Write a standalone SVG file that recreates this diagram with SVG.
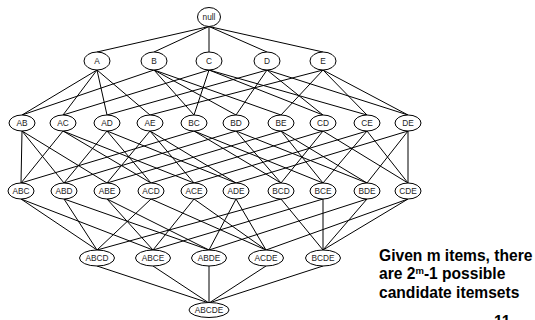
<svg xmlns="http://www.w3.org/2000/svg" width="535" height="320" viewBox="0 0 535 320">
<style>
.n ellipse{fill:#fff;stroke:#000;stroke-width:1}
.n text{font-family:"Liberation Sans",Arial,sans-serif;font-size:8.3px;fill:#222;text-anchor:middle}
#edges line{stroke:#000;stroke-width:1}
.cap{font-family:"Liberation Sans",Arial,sans-serif;font-size:15.6px;font-weight:bold;fill:#000}
</style>
<rect width="535" height="320" fill="#fff"/>
<g id="edges">
<line x1="209" y1="26.5" x2="97" y2="52"/><line x1="209" y1="26.5" x2="154" y2="52"/><line x1="209" y1="26.5" x2="209" y2="52"/><line x1="209" y1="26.5" x2="267" y2="52"/><line x1="209" y1="26.5" x2="323" y2="52"/>
<line x1="97" y1="70" x2="22" y2="115"/><line x1="97" y1="70" x2="63" y2="115"/><line x1="97" y1="70" x2="107" y2="115"/><line x1="97" y1="70" x2="150" y2="115"/>
<line x1="154" y1="70" x2="22" y2="115"/><line x1="154" y1="70" x2="194" y2="115"/><line x1="154" y1="70" x2="236" y2="115"/><line x1="154" y1="70" x2="281" y2="115"/>
<line x1="209" y1="70" x2="63" y2="115"/><line x1="209" y1="70" x2="194" y2="115"/><line x1="209" y1="70" x2="323" y2="115"/><line x1="209" y1="70" x2="367" y2="115"/>
<line x1="267" y1="70" x2="107" y2="115"/><line x1="267" y1="70" x2="236" y2="115"/><line x1="267" y1="70" x2="323" y2="115"/><line x1="267" y1="70" x2="408" y2="115"/>
<line x1="323" y1="70" x2="150" y2="115"/><line x1="323" y1="70" x2="281" y2="115"/><line x1="323" y1="70" x2="367" y2="115"/><line x1="323" y1="70" x2="408" y2="115"/>
<line x1="22" y1="131" x2="21" y2="183"/><line x1="22" y1="131" x2="64" y2="183"/><line x1="22" y1="131" x2="107" y2="183"/>
<line x1="63" y1="131" x2="21" y2="183"/><line x1="63" y1="131" x2="151" y2="183"/><line x1="63" y1="131" x2="194" y2="183"/>
<line x1="107" y1="131" x2="64" y2="183"/><line x1="107" y1="131" x2="151" y2="183"/><line x1="107" y1="131" x2="236" y2="183"/>
<line x1="150" y1="131" x2="107" y2="183"/><line x1="150" y1="131" x2="194" y2="183"/><line x1="150" y1="131" x2="236" y2="183"/>
<line x1="194" y1="131" x2="21" y2="183"/><line x1="194" y1="131" x2="281" y2="183"/><line x1="194" y1="131" x2="323" y2="183"/>
<line x1="236" y1="131" x2="64" y2="183"/><line x1="236" y1="131" x2="281" y2="183"/><line x1="236" y1="131" x2="367" y2="183"/>
<line x1="281" y1="131" x2="107" y2="183"/><line x1="281" y1="131" x2="323" y2="183"/><line x1="281" y1="131" x2="367" y2="183"/>
<line x1="323" y1="131" x2="151" y2="183"/><line x1="323" y1="131" x2="281" y2="183"/><line x1="323" y1="131" x2="408" y2="183"/>
<line x1="367" y1="131" x2="194" y2="183"/><line x1="367" y1="131" x2="323" y2="183"/><line x1="367" y1="131" x2="408" y2="183"/>
<line x1="408" y1="131" x2="236" y2="183"/><line x1="408" y1="131" x2="367" y2="183"/><line x1="408" y1="131" x2="408" y2="183"/>
<line x1="21" y1="199" x2="97" y2="250"/><line x1="21" y1="199" x2="153" y2="250"/>
<line x1="64" y1="199" x2="97" y2="250"/><line x1="64" y1="199" x2="209" y2="250"/>
<line x1="107" y1="199" x2="153" y2="250"/><line x1="107" y1="199" x2="209" y2="250"/>
<line x1="151" y1="199" x2="97" y2="250"/><line x1="151" y1="199" x2="266" y2="250"/>
<line x1="194" y1="199" x2="153" y2="250"/><line x1="194" y1="199" x2="266" y2="250"/>
<line x1="236" y1="199" x2="209" y2="250"/><line x1="236" y1="199" x2="266" y2="250"/>
<line x1="281" y1="199" x2="97" y2="250"/><line x1="281" y1="199" x2="323" y2="250"/>
<line x1="323" y1="199" x2="153" y2="250"/><line x1="323" y1="199" x2="323" y2="250"/>
<line x1="367" y1="199" x2="209" y2="250"/><line x1="367" y1="199" x2="323" y2="250"/>
<line x1="408" y1="199" x2="266" y2="250"/><line x1="408" y1="199" x2="323" y2="250"/>
<line x1="97" y1="266" x2="209" y2="303"/><line x1="153" y1="266" x2="209" y2="303"/><line x1="209" y1="266" x2="209" y2="303"/><line x1="266" y1="266" x2="209" y2="303"/><line x1="323" y1="266" x2="209" y2="303"/>
</g>
<g id="n-null" class="n"><ellipse cx="209" cy="17" rx="11.5" ry="9.5"/><text x="209" y="20">null</text></g>
<g id="n-A" class="n"><ellipse cx="97" cy="61" rx="13" ry="9"/><text x="97" y="64">A</text></g>
<g id="n-B" class="n"><ellipse cx="154" cy="61" rx="13" ry="9"/><text x="154" y="64">B</text></g>
<g id="n-C" class="n"><ellipse cx="209" cy="61" rx="13" ry="9"/><text x="209" y="64">C</text></g>
<g id="n-D" class="n"><ellipse cx="267" cy="61" rx="13" ry="9"/><text x="267" y="64">D</text></g>
<g id="n-E" class="n"><ellipse cx="323" cy="61" rx="13" ry="9"/><text x="323" y="64">E</text></g>
<g id="n-AB" class="n"><ellipse cx="22" cy="123" rx="13" ry="8"/><text x="22" y="126">AB</text></g>
<g id="n-AC" class="n"><ellipse cx="63" cy="123" rx="13" ry="8"/><text x="63" y="126">AC</text></g>
<g id="n-AD" class="n"><ellipse cx="107" cy="123" rx="13" ry="8"/><text x="107" y="126">AD</text></g>
<g id="n-AE" class="n"><ellipse cx="150" cy="123" rx="13" ry="8"/><text x="150" y="126">AE</text></g>
<g id="n-BC" class="n"><ellipse cx="194" cy="123" rx="13" ry="8"/><text x="194" y="126">BC</text></g>
<g id="n-BD" class="n"><ellipse cx="236" cy="123" rx="13" ry="8"/><text x="236" y="126">BD</text></g>
<g id="n-BE" class="n"><ellipse cx="281" cy="123" rx="13" ry="8"/><text x="281" y="126">BE</text></g>
<g id="n-CD" class="n"><ellipse cx="323" cy="123" rx="13" ry="8"/><text x="323" y="126">CD</text></g>
<g id="n-CE" class="n"><ellipse cx="367" cy="123" rx="13" ry="8"/><text x="367" y="126">CE</text></g>
<g id="n-DE" class="n"><ellipse cx="408" cy="123" rx="13" ry="8"/><text x="408" y="126">DE</text></g>
<g id="n-ABC" class="n"><ellipse cx="21" cy="191" rx="13" ry="8"/><text x="21" y="194">ABC</text></g>
<g id="n-ABD" class="n"><ellipse cx="64" cy="191" rx="13" ry="8"/><text x="64" y="194">ABD</text></g>
<g id="n-ABE" class="n"><ellipse cx="107" cy="191" rx="13" ry="8"/><text x="107" y="194">ABE</text></g>
<g id="n-ACD" class="n"><ellipse cx="151" cy="191" rx="13" ry="8"/><text x="151" y="194">ACD</text></g>
<g id="n-ACE" class="n"><ellipse cx="194" cy="191" rx="13" ry="8"/><text x="194" y="194">ACE</text></g>
<g id="n-ADE" class="n"><ellipse cx="236" cy="191" rx="13" ry="8"/><text x="236" y="194">ADE</text></g>
<g id="n-BCD" class="n"><ellipse cx="281" cy="191" rx="13" ry="8"/><text x="281" y="194">BCD</text></g>
<g id="n-BCE" class="n"><ellipse cx="323" cy="191" rx="13" ry="8"/><text x="323" y="194">BCE</text></g>
<g id="n-BDE" class="n"><ellipse cx="367" cy="191" rx="13" ry="8"/><text x="367" y="194">BDE</text></g>
<g id="n-CDE" class="n"><ellipse cx="408" cy="191" rx="13" ry="8"/><text x="408" y="194">CDE</text></g>
<g id="n-ABCD" class="n"><ellipse cx="97" cy="258" rx="17.5" ry="8"/><text x="97" y="261">ABCD</text></g>
<g id="n-ABCE" class="n"><ellipse cx="153" cy="258" rx="17.5" ry="8"/><text x="153" y="261">ABCE</text></g>
<g id="n-ABDE" class="n"><ellipse cx="209" cy="258" rx="17.5" ry="8"/><text x="209" y="261">ABDE</text></g>
<g id="n-ACDE" class="n"><ellipse cx="266" cy="258" rx="17.5" ry="8"/><text x="266" y="261">ACDE</text></g>
<g id="n-BCDE" class="n"><ellipse cx="323" cy="258" rx="17.5" ry="8"/><text x="323" y="261">BCDE</text></g>
<g id="n-ABCDE" class="n"><ellipse cx="209" cy="310" rx="20" ry="7.5"/><text x="209" y="313">ABCDE</text></g>
<g id="caption">
<text class="cap" x="379" y="260.7">Given m items, there</text>
<text class="cap" x="379" y="279.3">are 2<tspan font-size="9.5px" dy="-5">m</tspan><tspan dy="5">-1 possible</tspan></text>
<text class="cap" x="379" y="297.7">candidate itemsets</text>
<text class="cap" x="494" y="327" font-size="14px">11</text>
</g>
</svg>
